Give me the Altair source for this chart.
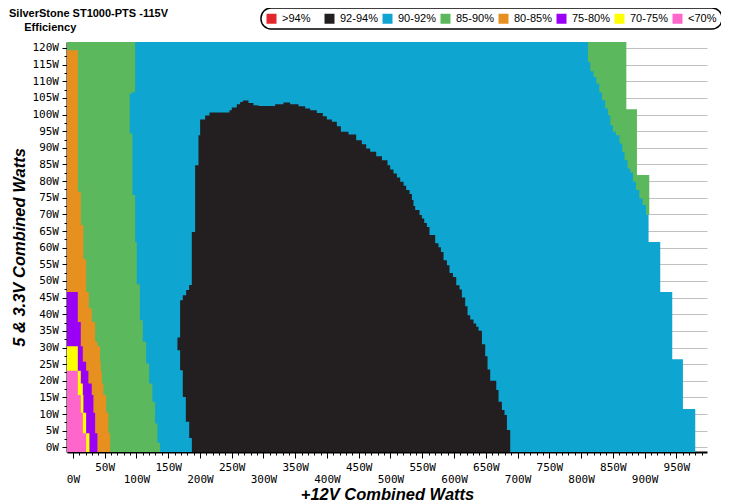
import altair as alt
import pandas as pd

# ---------------- scale extents (watts) ----------------
X_MIN, X_MAX = -9.3, 998.3
Y_MIN, Y_MAX = -1.4, 121.8

CATS = [">94%", "92-94%", "90-92%", "85-90%", "80-85%", "75-80%", "70-75%", "<70%"]
COLORS = ["#e3262c", "#231f20", "#0ea5d1", "#5cb85c", "#e8901f", "#9a00f5", "#ffff00", "#ff66cc"]

X_TICKS = [i * 10 for i in range(100)]
Y_TICKS = [i * 2.5 for i in range(49)]

# ---------------- region boundaries read from the map ----------------
# each *_v list: 5&3.3V load breakpoints (W); each *_w list: +12V load edge (W) valid from v[i] to v[i+1]
pink_v = [-1.4, 4.2, 10.4, 15.7, 19.2, 23.0]
pink_w = [25.0, 20.8, 15.6, 12.4, 7.7]

yellow_v = [-1.4, 4.2, 10.4, 15.7, 19.2, 23.0, 25.7, 30.4]
yellow_w = [33.0, 26.0, 20.8, 16.5, 15.6, 12.4, 7.7]

purple_v = [-1.4, 4.2, 10.4, 15.7, 19.2, 23.0, 25.7, 30.4, 37.7, 41.7, 46.7]
purple_w = [43.9, 38.6, 35.0, 32.3, 29.7, 24.4, 20.8, 15.6, 12.4, 7.7]

orange_v = [-1.4, 4.2, 10.4, 15.7, 19.2, 23.0, 25.7, 30.4, 31.7, 37.7, 41.7, 46.7, 56.5, 66.8, 76.8, 99.3, 119.3]
orange_w = [66.5, 58.6, 55.9, 52.3, 48.0, 45.5, 43.9, 42.8, 38.6, 35.0, 29.7, 25.0, 20.8, 16.5, 12.4, 7.7]

green_left_v = [-1.4, 1.4, 7.2, 13.7, 19.2, 25.2, 31.7, 38.2, 49.0, 61.7, 75.8, 94.3, 106.3, 106.8, 117.3, 121.8]
green_left_w = [141.6, 137.3, 133.1, 129.4, 125.2, 120.0, 115.3, 110.0, 105.5, 100.6, 98.0, 93.7, 89.5, 93.7, 98.0]

black_bulge_v = [-1.4, 2.8, 7.7, 15.1, 23.2, 29.2, 33.0, 44.2, 45.7, 47.3, 48.8, 54.8, 64.7]
black_bulge_w = [192.6, 187.3, 183.1, 177.8, 173.0, 168.8, 164.6, 168.8, 173.0, 178.3, 183.0, 187.2]
black_bulge_right = 195.0

# black (92-94%) upper edge: +12V breakpoints and 5&3.3V height from w[i] to w[i+1]
black_top_w = [192.4, 197.7, 200.3, 208.2, 215.0, 246.5, 250.2, 258.0, 263.3, 267.5, 276.4, 284.3,
               292.2, 318.4, 331.5, 342.0, 355.2, 365.7, 373.5, 384.0, 393.5, 399.8, 407.7, 415.6,
               421.9, 433.9, 446.0, 454.9, 461.7, 468.0, 477.5, 486.5, 495.3, 499.5, 504.7, 510.1,
               515.3, 520.6, 524.7, 530.0, 533.7, 536.2, 538.9, 545.7, 549.4, 553.1, 557.3, 561.4,
               570.4, 575.6, 579.4, 583.5, 588.8, 592.9, 598.3, 603.5, 608.7, 612.4, 617.6, 621.3,
               625.5, 630.7, 634.9, 638.6, 643.9, 649.1, 652.8, 657.0, 666.5, 670.1, 675.4, 679.5,
               683.3, 688.5]
black_top_v = [84.8, 93.8, 98.5, 99.7, 100.6, 101.3, 102.1, 103.1, 103.8, 104.2, 103.5, 102.8,
               102.6, 103.1, 103.6, 103.1, 102.5, 101.8, 101.3, 100.5, 99.5, 98.5, 97.8, 96.5,
               94.8, 94.0, 92.3, 91.1, 89.8, 88.8, 87.5, 86.3, 84.8, 83.5, 82.3, 81.1,
               79.8, 78.6, 77.3, 76.1, 74.3, 72.5, 71.3, 69.8, 68.8, 67.4, 66.2, 63.8,
               61.3, 60.1, 58.7, 56.2, 54.7, 52.4, 51.2, 48.7, 47.4, 45.0, 42.4, 39.7,
               38.4, 37.2, 36.2, 35.0, 31.0, 27.4, 23.4, 20.0, 17.2, 13.7, 11.2, 9.7, 5.2]

blue_right_v = [-1.4, 11.5, 26.5, 46.7, 61.7, 70.0, 72.8, 74.8, 77.3, 79.8, 82.6, 83.8, 86.3, 88.8,
                91.3, 93.8, 94.8, 96.8, 99.8, 101.8, 104.3, 106.6, 109.3, 111.3, 113.0, 115.8, 119.3, 121.8]
blue_right_w = [998.3, 979.8, 960.4, 943.6, 924.7, 906.3, 902.2, 896.9, 891.7, 886.5, 881.7, 877.5,
                873.2, 868.5, 864.9, 860.6, 854.9, 850.2, 846.0, 842.3, 838.1, 832.9, 828.7, 824.0,
                819.7, 814.5, 810.8]

green_right_v = [70.0, 81.8, 101.6, 119.3, 121.8]
green_right_w = [924.7, 907.4, 888.0, 871.3]


def hband(v, w, cat, base):
    rows = [{"v": v[i], "w": w[i], "base": base, "cat": cat} for i in range(len(w))]
    rows.append({"v": v[-1], "w": w[-1], "base": base, "cat": cat})
    return pd.DataFrame(rows)


def vband(w, v, cat, base):
    rows = [{"w": w[i], "v": v[i], "base": base, "cat": cat} for i in range(len(v))]
    rows.append({"w": w[-1], "v": base, "base": base, "cat": cat})
    return pd.DataFrame(rows)


# ---------------- encodings ----------------
x_axis = alt.Axis(
    values=X_TICKS,
    labelExpr="datum.value % 50 === 0 ? datum.value + 'W' : ''",
    tickSize={"condition": {"test": "datum.value % 50 === 0", "value": 6}, "value": 3},
    labelPadding={"condition": {"test": "datum.value % 100 === 0", "value": 15}, "value": 3},
    labelFont="DejaVu Sans Mono", labelFontSize=11, labelColor="black",
    labelOverlap=False, labelFlush=False,
    domainColor="black", domainWidth=2, tickColor="black", tickWidth=1,
    grid=False,
    titleFont="Liberation Sans", titleFontSize=16.5, titleFontWeight="bold",
    titleFontStyle="italic", titleColor="black",
    titleX=320, titleY=47.5, titleBaseline="alphabetic", titleAlign="center",
)
y_axis = alt.Axis(
    values=Y_TICKS,
    labelExpr="datum.value % 5 === 0 ? datum.value + 'W' : ''",
    tickSize={"condition": {"test": "datum.value % 5 === 0", "value": 5}, "value": 3},
    labelPadding=3.5,
    labelFont="DejaVu Sans Mono", labelFontSize=11, labelColor="black",
    labelOverlap=False, labelFlush=False,
    domainColor="black", domainWidth=2, tickColor="black", tickWidth=1,
    grid=True, gridWidth=1,
    gridColor={"condition": {"test": "datum.value % 5 === 0", "value": "#c0c0c0"}, "value": "transparent"},
    titleFont="Liberation Sans", titleFontSize=16.5, titleFontWeight="bold",
    titleFontStyle="italic", titleColor="black",
    titleAngle=270, titleX=-48, titleY=205, titleBaseline="middle", titleAlign="center",
)

xs = alt.Scale(domain=[X_MIN, X_MAX], nice=False, zero=False)
ys = alt.Scale(domain=[Y_MIN, Y_MAX], nice=False, zero=False)

legend = alt.Legend(
    title=None, orient="none", legendX=194, legendY=-34, direction="horizontal",
    columns=8, symbolType="square", symbolSize=100, symbolStrokeWidth=0,
    labelFont="Liberation Sans", labelFontSize=11, labelColor="black",
    labelOffset=5, columnPadding=4, gridAlign="all", padding=5,
    strokeColor="black", fillColor="white", cornerRadius=10,
)
color = alt.Color("cat:N", scale=alt.Scale(domain=CATS, range=COLORS), legend=legend)

xenc = alt.X("w:Q", scale=xs, axis=x_axis, title="+12V Combined Watts", stack=None)
yenc = alt.Y("v:Q", scale=ys, axis=y_axis, title="5 & 3.3V Combined Watts", stack=None)


def hlayer(df):
    return alt.Chart(df).mark_area(orient="horizontal", interpolate="step-before").encode(
        x=xenc, x2=alt.X2("base"), y=yenc, color=color)


layers = [
    hlayer(hband(green_right_v, green_right_w, "85-90%", X_MIN)),
    hlayer(hband(blue_right_v, blue_right_w, "90-92%", X_MIN)),
    alt.Chart(vband(black_top_w, black_top_v, "92-94%", Y_MIN)).mark_area(
        orient="vertical", interpolate="step-after").encode(
        x=xenc, y=yenc, y2=alt.Y2("base"), color=color),
    hlayer(hband(black_bulge_v, black_bulge_w, "92-94%", black_bulge_right)),
    hlayer(hband(green_left_v, green_left_w, "85-90%", X_MIN)),
    hlayer(hband(orange_v, orange_w, "80-85%", X_MIN)),
    hlayer(hband(purple_v, purple_w, "75-80%", X_MIN)),
    hlayer(hband(yellow_v, yellow_w, "70-75%", X_MIN)),
    hlayer(hband(pink_v, pink_w, "<70%", X_MIN)),
]

title = alt.TitleParams(
    text="SilverStone ST1000-PTS -115V",
    subtitle="\u200b\u00a0\u00a0\u00a0\u00a0\u00a0Efficiency",
    anchor="start", frame="group", dx=-58, dy=26, offset=0,
    font="Liberation Sans", fontSize=11, fontWeight="bold", color="black",
    subtitleFont="Liberation Sans", subtitleFontSize=11, subtitleFontWeight="bold",
    subtitleColor="black", subtitlePadding=3,
)

chart = alt.layer(*layers).properties(
    width=640, height=410, title=title,
    autosize=alt.AutoSizeParams(type="none"),
    padding={"left": 59, "top": 34, "right": 14, "bottom": 50},
    background="white",
).configure_view(stroke=None).configure_legend(strokeWidth=1.5)

chart.save("out.html", embed_options={"renderer": "svg", "actions": False})
